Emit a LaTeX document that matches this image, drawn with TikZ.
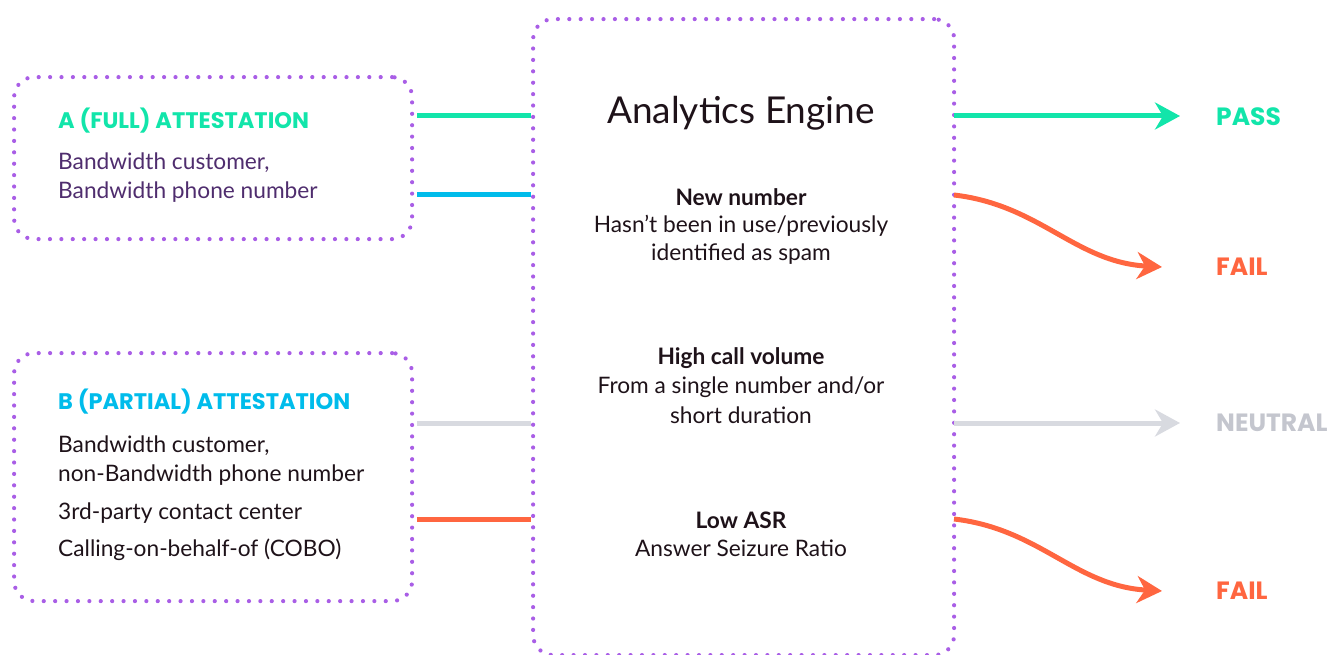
\documentclass[tikz,border=0pt]{standalone}
\usepackage{fontspec}
\setmainfont{Lato}
\newfontfamily\headfont{Poppins}[UprightFont=* Bold]
\usetikzlibrary{arrows.meta}
\definecolor{cgreen}{HTML}{12E5AA}
\definecolor{cblue}{HTML}{00BCEB}
\definecolor{cgrey}{HTML}{D8DAE0}
\definecolor{cgreytxt}{HTML}{C4C6CE}
\definecolor{corange}{HTML}{FF6640}
\definecolor{cpurple}{HTML}{A95EE6}
\definecolor{ctextA}{HTML}{4F2D6E}
\definecolor{ctext}{HTML}{1E1219}
\tikzset{
  dotbox/.style={draw=cpurple, line width=4.2pt, line cap=round, dash pattern=on 0pt off 11.4pt, rounded corners=20pt},
  body/.style={font=\fontsize{22.7}{27}\selectfont, text=ctext, inner sep=0pt},
  bodyA/.style={body, text=ctextA},
  head/.style={font=\headfont\fontsize{22.5}{26}\selectfont, inner sep=0pt, anchor=west},
  ctr/.style={body, anchor=center, align=center},
  ctrb/.style={ctr, font=\bfseries\fontsize{22.7}{27}\selectfont},
  conn/.style={line width=5pt},
  arr/.style={line width=5pt, -{Stealth[length=25pt, width=27pt, inset=8pt]}},
  res/.style={font=\headfont\fontsize{25}{28}\selectfont, inner sep=0pt, anchor=west},
}
\begin{document}
\begin{tikzpicture}[x=1pt,y=-1pt]
\useasboundingbox (0,0) rectangle (1342,655);
% boxes
\node[dotbox, minimum width=398pt, minimum height=162pt, anchor=north west] (boxA) at (12,75) {};
\node[dotbox, minimum width=398pt, minimum height=248pt, anchor=north west] (boxB) at (12,351) {};
\node[dotbox, minimum width=421pt, minimum height=636pt, anchor=north west] (eng) at (531,17) {};
% box A text
\node[head, text=cgreen] (hA) at (58,121) {A (FULL) ATTESTATION};
\node[bodyA, anchor=west] (a1) at (58,163) {Bandwidth customer,};
\node[bodyA, anchor=west] (a2) at (58,192) {Bandwidth phone number};
% box B text
\node[head, text=cblue] (hB) at (58,402) {B (PARTIAL) ATTESTATION};
\node[body, anchor=west] (b1) at (58,446) {Bandwidth customer,};
\node[body, anchor=west] (b2) at (58,475) {non-Bandwidth phone number};
\node[body, anchor=west] (b3) at (58,513) {3rd-party contact center};
\node[body, anchor=west] (b4) at (58,550) {Calling-on-behalf-of (COBO)};
% engine text
\node[ctr, font=\fontsize{37}{42}\selectfont] (title) at (741,113) {Analytics Engine};
\node[ctrb] (n1) at (741,197) {New number};
\node[ctr] (n1a) at (741,226) {Hasn’t been in use/previously};
\node[ctr] (n1b) at (741,254) {identified as spam};
\node[ctrb] (n2) at (741,358) {High call volume};
\node[ctr] (n2a) at (741,387) {From a single number and/or};
\node[ctr] (n2b) at (741,415) {short duration};
\node[ctrb] (n3) at (741,520) {Low ASR};
\node[ctr] (n3a) at (741,548) {Answer Seizure Ratio};
% results
\node[res, text=cgreen] (pass) at (1216,117) {PASS};
\node[res, text=corange] (fail1) at (1216,267) {FAIL};
\node[res, text=cgreytxt] (neutral) at (1216,423) {NEUTRAL};
\node[res, text=corange] (fail2) at (1216,591) {FAIL};
% coordinates
\coordinate (aL1) at (417,116);
\coordinate (aL2) at (417,195);
\coordinate (bL1) at (417,423);
\coordinate (bL2) at (417,519);
\coordinate (eL1) at (531,116);
\coordinate (eL2) at (531,195);
\coordinate (eL3) at (531,423);
\coordinate (eL4) at (531,519);
\coordinate (eR1) at (954,116);
\coordinate (eR2) at (954,195);
\coordinate (eR3) at (954,423);
\coordinate (eR4) at (954,519);
\coordinate (t1) at (1180,116);
\coordinate (t2) at (1162,267);
\coordinate (t3) at (1180,423);
\coordinate (t4) at (1162,591);
% left connectors
\draw[conn, cgreen] (aL1) -- (eL1);
\draw[conn, cblue] (aL2) -- (eL2);
\draw[conn, cgrey] (bL1) -- (eL3);
\draw[conn, corange] (bL2) -- (eL4);
% right arrows
\draw[arr, cgreen] (eR1) -- (t1);
\draw[arr, cgrey] (eR3) -- (t3);
\draw[arr, corange] (eR2) .. controls (1040,205) and (1075,262) .. (t2);
\draw[arr, corange] (eR4) .. controls (1040,529) and (1075,586) .. (t4);
\end{tikzpicture}
\end{document}
